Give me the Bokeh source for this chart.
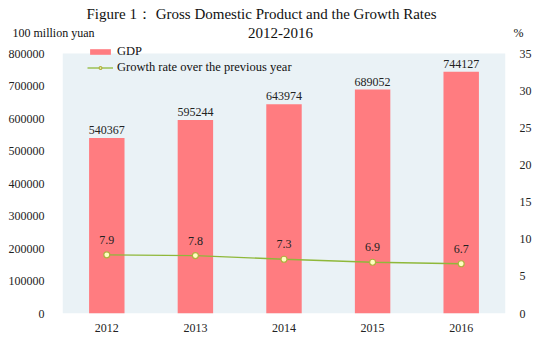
from bokeh.plotting import figure
from bokeh.layouts import column
from bokeh.models import (FactorRange, Range1d, LinearAxis, FixedTicker,
                          Legend, LegendItem, ColumnDataSource, BoxAnnotation)
from bokeh.core.properties import value
from bokeh.embed import file_html
from bokeh.resources import INLINE

years = ["2012", "2013", "2014", "2015", "2016"]
gdp = [540367, 595244, 643974, 689052, 744127]
growth = [7.9, 7.8, 7.3, 6.9, 6.7]
left_ticks = [0, 100000, 200000, 300000, 400000, 500000, 600000, 700000, 800000]
right_ticks = [0, 5, 10, 15, 20, 25, 30, 35]
title_line1 = "Figure 1\uff1a Gross Domestic Product and the Growth Rates"
title_line2 = "2012-2016"
left_unit = "100 million yuan"
right_unit = "%"

FONT = "Liberation Serif"

# ---------- header with titles ----------
W, HH = 535, 40
hdr = figure(width=W, height=HH, x_range=Range1d(0, W), y_range=Range1d(HH, 0),
             output_backend="svg", toolbar_location=None,
             min_border=0, min_border_left=0, min_border_right=0,
             min_border_top=0, min_border_bottom=0)
hdr.frame_align = False
hdr.axis.visible = False
hdr.grid.visible = False
hdr.outline_line_color = None
hdr.background_fill_color = "white"
hsrc = ColumnDataSource(dict(x=[261], y=[13], t=[title_line1]))
hdr.text(x="x", y="y", text="t", source=hsrc, text_align="center",
         text_baseline="middle", text_font=value(FONT), text_font_size="15px",
         text_color="#111111")
hsrc1 = ColumnDataSource(dict(x=[280], y=[32], t=[title_line2]))
hdr.text(x="x", y="y", text="t", source=hsrc1, text_align="center",
         text_baseline="middle", text_font=value(FONT), text_font_size="15px",
         text_color="#111111")
hsrc2 = ColumnDataSource(dict(x=[12, 513], y=[32, 32], t=[left_unit, right_unit]))
hdr.text(x="x", y="y", text="t", source=hsrc2, text_align="left",
         text_baseline="middle", text_font=value(FONT), text_font_size="12px",
         text_color="#111111")

# ---------- main chart ----------
src = ColumnDataSource(dict(
    year=years, gdp=gdp, growth=growth,
    gdp_lbl=[str(v) for v in gdp],
    gr_lbl=[f"{v:.1f}" for v in growth],
))

frame_h = 313 - HH     # px, frame top at canvas y=HH, bottom at y=313
plot_h_800k = 260      # px used by 0..800000
ymax = left_ticks[-1] * frame_h / plot_h_800k
rmax = right_ticks[-1] * frame_h / plot_h_800k

p = figure(width=W, height=338 - HH, x_range=FactorRange(factors=years),
           y_range=Range1d(0, ymax), output_backend="svg",
           toolbar_location=None, min_border_left=62, min_border_right=30,
           min_border_top=0, min_border_bottom=25)
p.frame_align = False
p.extra_y_ranges = {"pct": Range1d(0, rmax)}

p.background_fill_color = "white"
p.border_fill_color = "white"
p.outline_line_color = None
p.add_layout(BoxAnnotation(bottom=0, top=left_ticks[-1], fill_color="#EAF2F6",
                           fill_alpha=1, line_color=None, level="underlay"))
p.xgrid.grid_line_color = None
p.ygrid.grid_line_color = "white"
p.ygrid.grid_line_width = 1.5
p.ygrid.ticker = FixedTicker(ticks=left_ticks)
p.ygrid.level = "underlay"

p.yaxis.ticker = FixedTicker(ticks=left_ticks)
ax_r = LinearAxis(y_range_name="pct", ticker=FixedTicker(ticks=right_ticks))
p.add_layout(ax_r, "right")
for ax in [p.xaxis[0], p.yaxis[0], ax_r]:
    ax.axis_line_color = None
    ax.major_tick_line_color = None
    ax.minor_tick_line_color = None
    ax.major_label_text_font = FONT
    ax.major_label_text_font_size = "12px"
    ax.major_label_text_color = "#222222"
p.yaxis[0].major_label_standoff = 12
ax_r.major_label_standoff = 8
p.xaxis[0].major_label_standoff = 4
p.yaxis[0].formatter.use_scientific = False

bars = p.vbar(x="year", top="gdp", width=0.4, source=src,
              fill_color="#FF7C80", line_color=None)
p.text(x="year", y="gdp", text="gdp_lbl", source=src, text_align="center",
       text_baseline="bottom", y_offset=-4, text_font=value(FONT),
       text_font_size="12px", text_color="#222222")

ln = p.line(x="year", y="growth", source=src, y_range_name="pct",
            line_color="#8FB83A", line_width=1.3)
mk = p.scatter(x="year", y="growth", source=src, y_range_name="pct", size=6,
               fill_color="#FFFFC0", line_color="#B0B040", line_width=1.2)
p.text(x="year", y="growth", text="gr_lbl", source=src, y_range_name="pct",
       text_align="center", text_baseline="bottom", y_offset=-11,
       text_font=value(FONT), text_font_size="12px", text_color="#222222")

legend = Legend(items=[LegendItem(label="GDP", renderers=[bars]),
                       LegendItem(label="Growth rate over the previous year",
                                  renderers=[ln, mk])],
                location=(25, 238), orientation="vertical",
                background_fill_alpha=0, border_line_color=None,
                padding=0, margin=0, spacing=1, glyph_width=26, glyph_height=7,
                label_standoff=4, label_text_font=FONT, label_text_font_size="12.5px",
                label_height=13, label_text_color="#111111")
p.add_layout(legend)

layout = column(hdr, p, spacing=0)
open("out.html", "w").write(file_html(layout, INLINE))
